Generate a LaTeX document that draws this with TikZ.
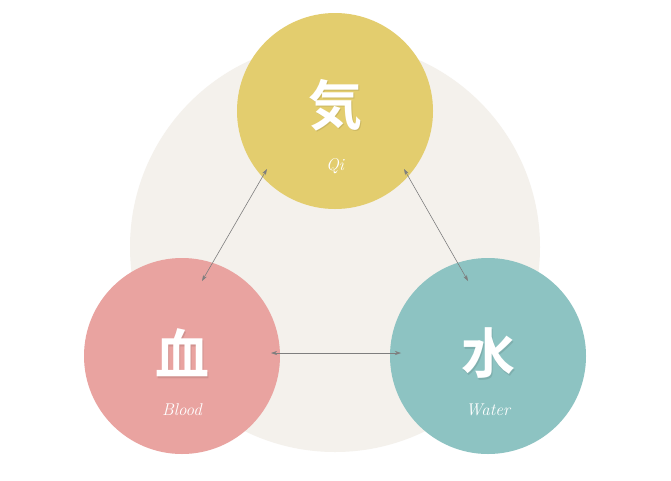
\documentclass[tikz,border=0pt]{standalone}
\usepackage{fontspec}
\newfontfamily\cjk{Noto Sans CJK JP}[BoldFont={* Bold}]
\usetikzlibrary{arrows.meta}
\definecolor{bgc}{HTML}{F4F1EC}
\definecolor{qic}{HTML}{E3CD6E}
\definecolor{bloodc}{HTML}{E9A3A0}
\definecolor{waterc}{HTML}{8DC3C2}
\definecolor{arrc}{HTML}{7E7E7E}
\tikzset{
  ball/.style={circle, minimum size=196pt, inner sep=0pt},
  kanji/.style={text=white, font=\cjk\bfseries\fontsize{54}{54}\selectfont},
  kshadow/.style={text=black, opacity=0.10, font=\cjk\bfseries\fontsize{54}{54}\selectfont},
  sub/.style={text=white, font=\itshape\fontsize{17}{17}\selectfont},
  link/.style={draw=arrc, line width=0.6pt, {Stealth[length=6pt,width=4pt]}-{Stealth[length=6pt,width=4pt]}}
}
\begin{document}
\begin{tikzpicture}[x=1pt,y=-1pt]
\useasboundingbox (0,0) rectangle (671,480);
\fill[white] (0,0) rectangle (671,480);
\node[circle, fill=bgc, minimum size=410pt, inner sep=0pt] (bg) at (335,247) {};
\node[ball, fill=qic] (qi) at (335,111) {};
\node[ball, fill=bloodc] (blood) at (182,356) {};
\node[ball, fill=waterc] (water) at (488,356) {};
\node[kshadow] at (336.5,106.5) {気};
\node[kanji] (qik) at (335,105) {気};
\node[sub] (qit) at (335,166) {Qi};
\node[kshadow] at (183.5,354.5) {血};
\node[kanji] (bloodk) at (182,353) {血};
\node[sub] (bloodt) at (182,410) {Blood};
\node[kshadow] at (489.5,354.5) {水};
\node[kanji] (waterk) at (488,353) {水};
\node[sub] (watert) at (488,410) {Water};
\coordinate (a1) at (267,169);
\coordinate (a2) at (202,281);
\coordinate (b1) at (404,169);
\coordinate (b2) at (468,281);
\coordinate (c1) at (271,353);
\coordinate (c2) at (401,353);
\draw[link] (a1) -- (a2);
\draw[link] (b1) -- (b2);
\draw[link] (c1) -- (c2);
\end{tikzpicture}
\end{document}
